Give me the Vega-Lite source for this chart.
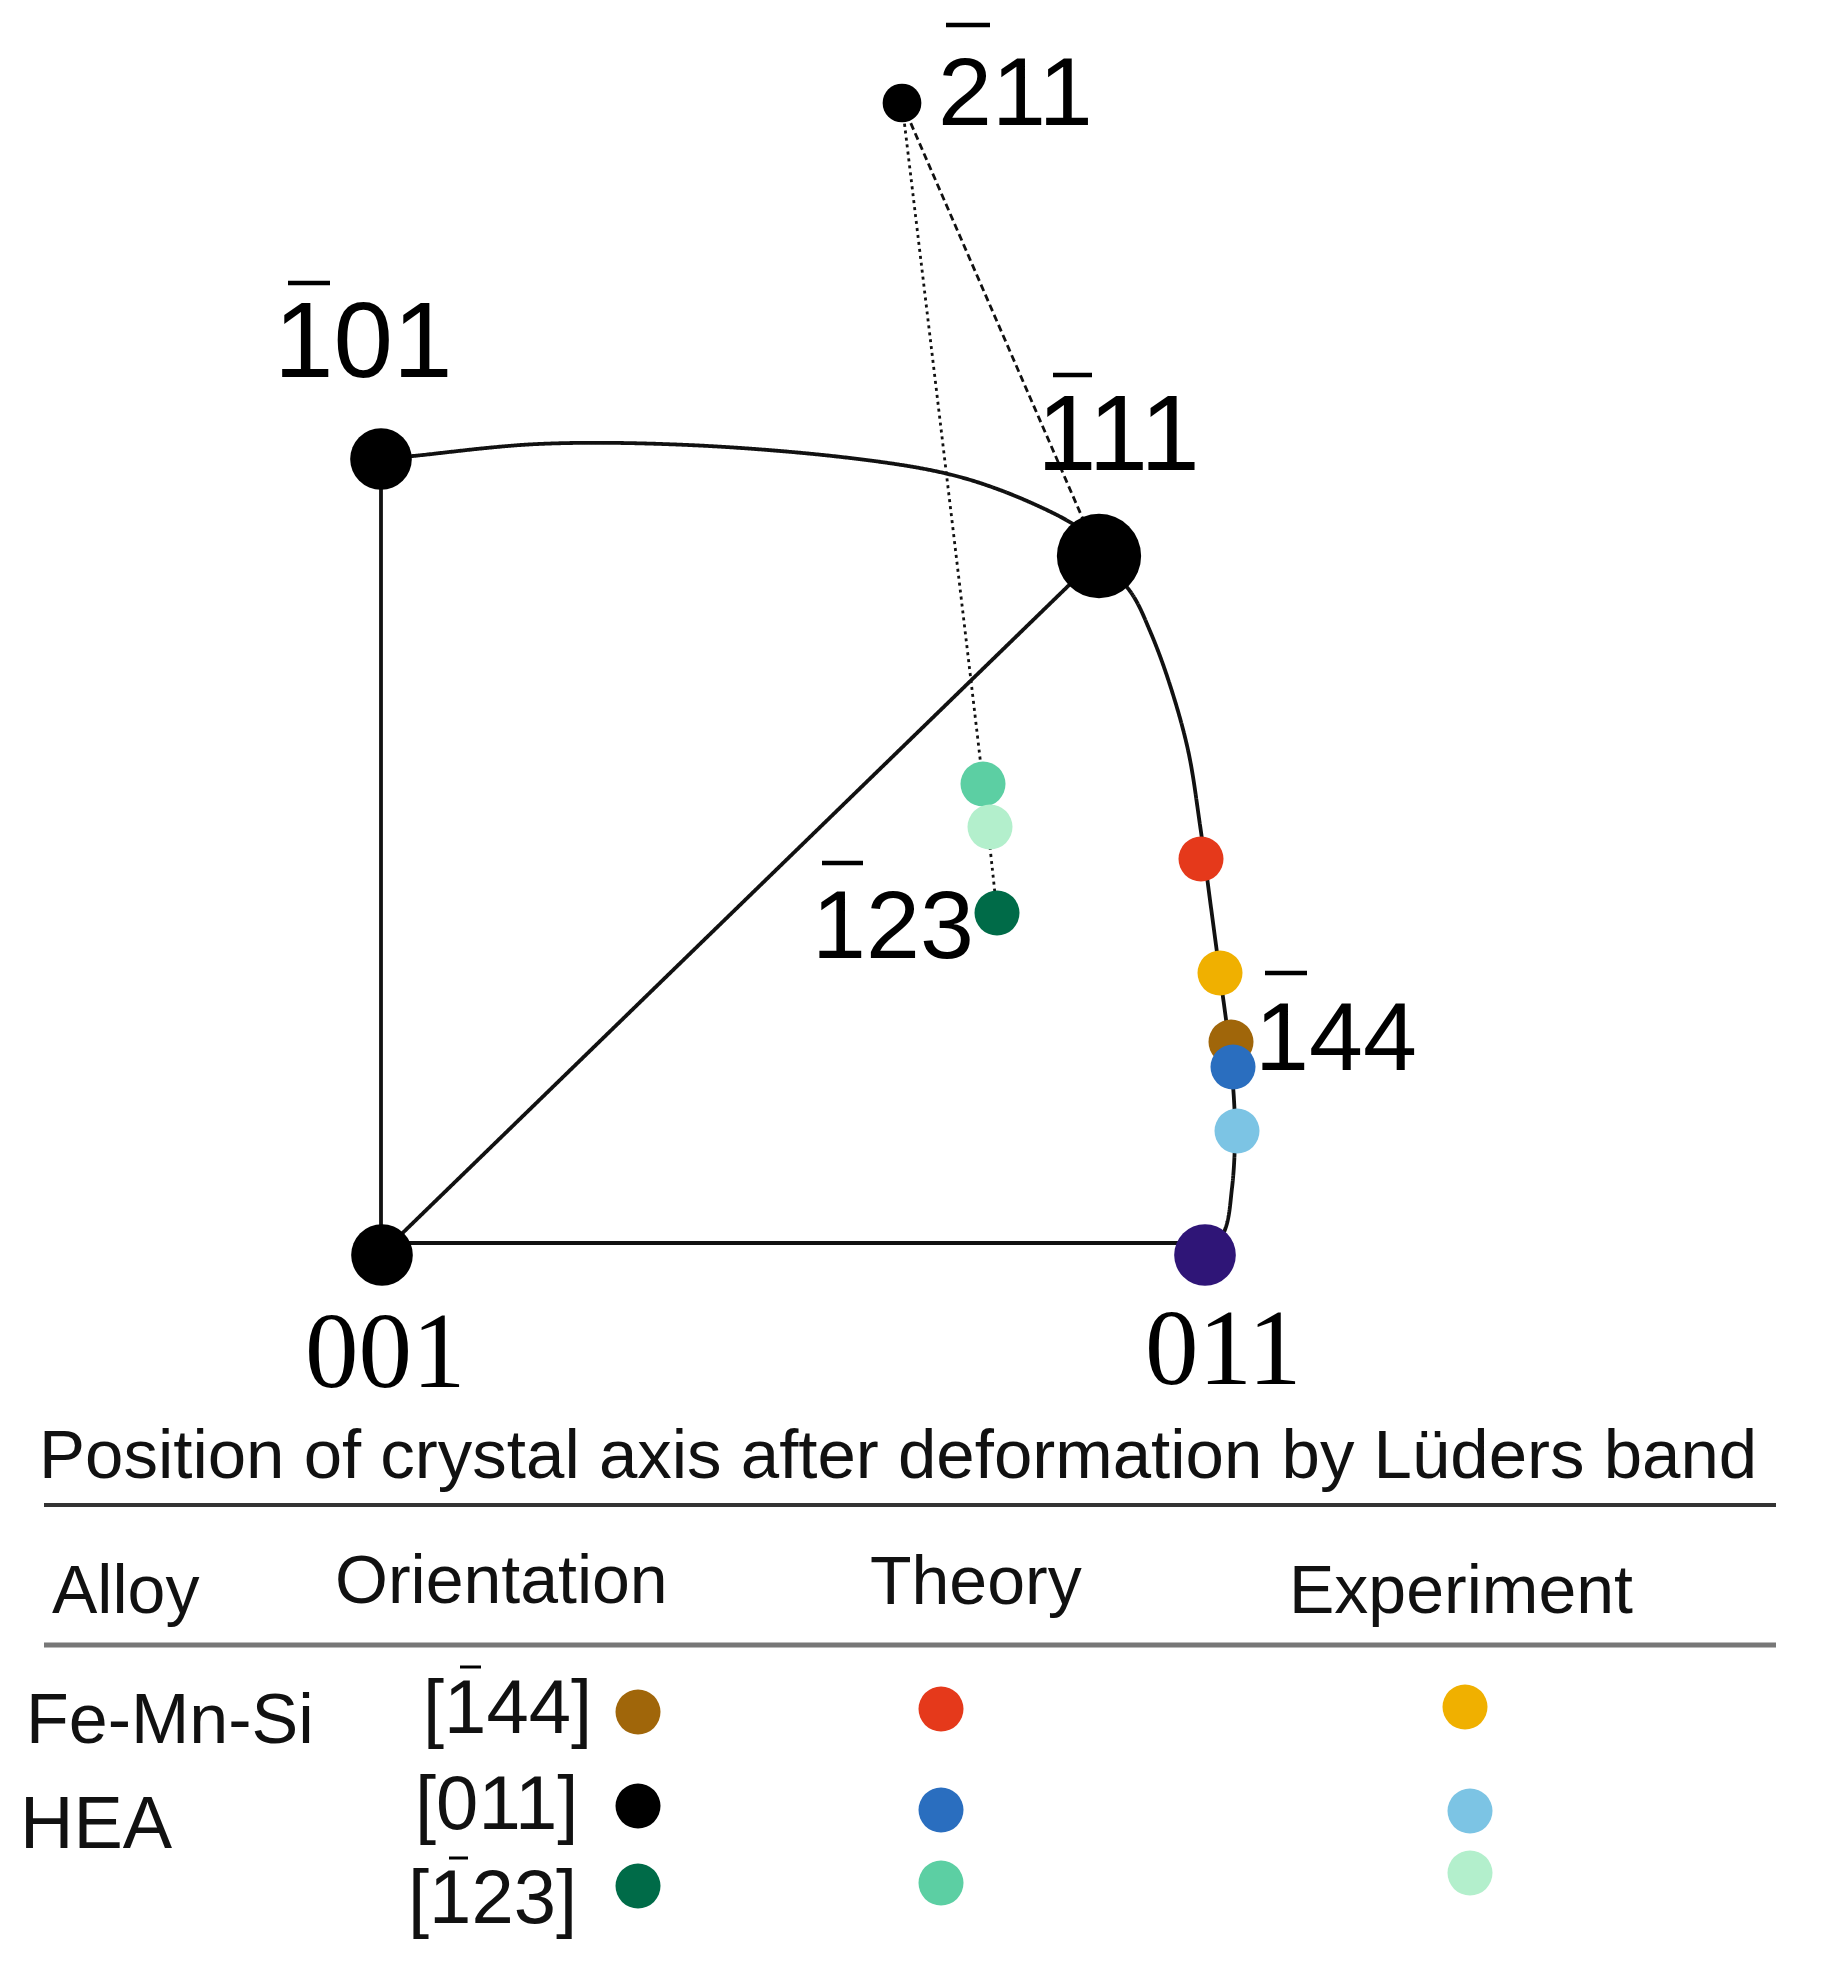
{
  "$schema": "https://vega.github.io/schema/vega-lite/v6.json",
  "width": 1822,
  "height": 1961,
  "padding": 0,
  "autosize": {"type": "fit", "contains": "padding"},
  "background": "white",
  "config": {"view": {"stroke": null}},
  "resolve": {"scale": {"size": "independent", "color": "independent", "strokeWidth": "independent", "strokeDash": "independent"}},
  "datasets": {
    "lines": [
      {"seg": "v", "style": "solid", "i": 0, "x": 381, "y": 459},
      {"seg": "v", "style": "solid", "i": 1, "x": 381, "y": 1254},
      {"seg": "h", "style": "solid", "i": 0, "x": 381, "y": 1243},
      {"seg": "h", "style": "solid", "i": 1, "x": 1204, "y": 1243},
      {"seg": "d", "style": "solid", "i": 0, "x": 381, "y": 1254},
      {"seg": "d", "style": "solid", "i": 1, "x": 1099, "y": 556},
      {"seg": "a1", "style": "solid", "i": 0, "x": 381, "y": 459},
      {"seg": "a1", "style": "solid", "i": 1, "x": 413, "y": 456},
      {"seg": "a1", "style": "solid", "i": 2, "x": 538, "y": 444},
      {"seg": "a1", "style": "solid", "i": 3, "x": 688, "y": 445},
      {"seg": "a1", "style": "solid", "i": 4, "x": 850, "y": 458},
      {"seg": "a1", "style": "solid", "i": 5, "x": 944, "y": 473},
      {"seg": "a1", "style": "solid", "i": 6, "x": 1000, "y": 490},
      {"seg": "a1", "style": "solid", "i": 7, "x": 1057, "y": 515},
      {"seg": "a1", "style": "solid", "i": 8, "x": 1088, "y": 533},
      {"seg": "a2", "style": "solid", "i": 0, "x": 1099, "y": 556},
      {"seg": "a2", "style": "solid", "i": 1, "x": 1132, "y": 594},
      {"seg": "a2", "style": "solid", "i": 2, "x": 1150, "y": 631},
      {"seg": "a2", "style": "solid", "i": 3, "x": 1169, "y": 682},
      {"seg": "a2", "style": "solid", "i": 4, "x": 1188, "y": 750},
      {"seg": "a2", "style": "solid", "i": 5, "x": 1200, "y": 825},
      {"seg": "a2", "style": "solid", "i": 6, "x": 1210, "y": 900},
      {"seg": "a2", "style": "solid", "i": 7, "x": 1220, "y": 975},
      {"seg": "a2", "style": "solid", "i": 8, "x": 1229, "y": 1044},
      {"seg": "a2", "style": "solid", "i": 9, "x": 1234, "y": 1100},
      {"seg": "a2", "style": "solid", "i": 10, "x": 1235, "y": 1138},
      {"seg": "a2", "style": "solid", "i": 11, "x": 1232, "y": 1188},
      {"seg": "a2", "style": "solid", "i": 12, "x": 1224, "y": 1232},
      {"seg": "a2", "style": "solid", "i": 13, "x": 1205, "y": 1255},
      {"seg": "dash", "style": "dashed", "i": 0, "x": 902, "y": 103},
      {"seg": "dash", "style": "dashed", "i": 1, "x": 1099, "y": 556},
      {"seg": "dot", "style": "dotted", "i": 0, "x": 902, "y": 103},
      {"seg": "dot", "style": "dotted", "i": 1, "x": 983, "y": 784},
      {"seg": "dot", "style": "dotted", "i": 2, "x": 997, "y": 913}
    ],
    "points": [
      {"name": "-101", "key": "pole", "kind": "pole", "x": 381, "y": 459},
      {"name": "001", "key": "pole", "kind": "pole", "x": 382, "y": 1255},
      {"name": "011", "key": "pole011", "kind": "pole", "x": 1205, "y": 1255},
      {"name": "-111", "key": "pole", "kind": "pole111", "x": 1099, "y": 556},
      {"name": "-211", "key": "pole", "kind": "pole211", "x": 902, "y": 103},
      {"name": "HEA [-123] theory", "key": "h123t", "kind": "dot", "x": 983, "y": 784},
      {"name": "HEA [-123] experiment", "key": "h123e", "kind": "dot", "x": 990, "y": 827},
      {"name": "HEA [-123] orientation", "key": "h123o", "kind": "dot", "x": 997, "y": 913},
      {"name": "Fe-Mn-Si theory", "key": "fmt", "kind": "dot", "x": 1201, "y": 859},
      {"name": "Fe-Mn-Si experiment", "key": "fme", "kind": "dot", "x": 1220, "y": 973},
      {"name": "Fe-Mn-Si orientation", "key": "fmo", "kind": "dot", "x": 1231, "y": 1042},
      {"name": "HEA [011] theory", "key": "h011t", "kind": "dot", "x": 1233, "y": 1067},
      {"name": "HEA [011] experiment", "key": "h011e", "kind": "dot", "x": 1237, "y": 1131},
      {"name": "legend", "key": "fmo", "kind": "tdot", "x": 638, "y": 1712},
      {"name": "legend", "key": "fmt", "kind": "tdot", "x": 941, "y": 1709},
      {"name": "legend", "key": "fme", "kind": "tdot", "x": 1465, "y": 1707},
      {"name": "legend", "key": "h011o", "kind": "tdot", "x": 638, "y": 1806},
      {"name": "legend", "key": "h011t", "kind": "tdot", "x": 941, "y": 1810},
      {"name": "legend", "key": "h011e", "kind": "tdot", "x": 1470, "y": 1811},
      {"name": "legend", "key": "h123o", "kind": "tdot", "x": 638, "y": 1886},
      {"name": "legend", "key": "h123t", "kind": "tdot", "x": 941, "y": 1883},
      {"name": "legend", "key": "h123e", "kind": "tdot", "x": 1470, "y": 1873}
    ],
    "rules": [
      {"kind": "diag", "x": 946, "x2": 990, "y": 25},
      {"kind": "diag", "x": 288, "x2": 330, "y": 283},
      {"kind": "diag", "x": 1053, "x2": 1092, "y": 375},
      {"kind": "diag", "x": 822, "x2": 863, "y": 863},
      {"kind": "diag", "x": 1265, "x2": 1307, "y": 973},
      {"kind": "table", "x": 460, "x2": 481, "y": 1667},
      {"kind": "table", "x": 449, "x2": 468, "y": 1858},
      {"kind": "rule1", "x": 44, "x2": 1776, "y": 1505},
      {"kind": "rule2", "x": 44, "x2": 1776, "y": 1645}
    ],
    "millers": [
      {"text": "211", "kind": "n", "x": 938, "y": 125},
      {"text": "101", "kind": "b", "x": 274, "y": 377},
      {"text": "111", "kind": "b", "x": 1037, "y": 470},
      {"text": "123", "kind": "n", "x": 812, "y": 958},
      {"text": "144", "kind": "n", "x": 1255, "y": 1070}
    ],
    "serif": [
      {"text": "001", "x": 305, "y": 1387},
      {"text": "011", "x": 1145, "y": 1384}
    ],
    "table": [
      {"text": "Position of crystal axis after deformation by Lüders band", "kind": "t", "x": 39, "y": 1478},
      {"text": "Alloy", "kind": "h", "x": 52, "y": 1613},
      {"text": "Orientation", "kind": "h", "x": 335, "y": 1603},
      {"text": "Theory", "kind": "h", "x": 870, "y": 1604},
      {"text": "Experiment", "kind": "h", "x": 1289, "y": 1613},
      {"text": "Fe-Mn-Si", "kind": "f", "x": 26, "y": 1743},
      {"text": "HEA", "kind": "a", "x": 20, "y": 1848},
      {"text": "[144]", "kind": "o", "x": 423, "y": 1733},
      {"text": "[011]", "kind": "o", "x": 415, "y": 1829},
      {"text": "[123]", "kind": "o", "x": 408, "y": 1923}
    ]
  },
  "layer": [
    {
      "data": {"name": "lines"},
      "mark": {"type": "line", "interpolate": "catmull-rom", "color": "#111111"},
      "encoding": {
        "x": {"field": "x", "type": "quantitative", "scale": {"domain": [0, 1822], "nice": false, "zero": false}, "axis": null},
        "y": {"field": "y", "type": "quantitative", "scale": {"domain": [0, 1961], "nice": false, "zero": false, "reverse": true}, "axis": null},
        "detail": {"field": "seg", "type": "nominal"},
        "order": {"field": "i", "type": "quantitative"},
        "strokeDash": {"field": "style", "type": "nominal", "scale": {"type": "ordinal", "domain": ["solid", "dashed", "dotted"], "range": [[1, 0], [7, 4], [3, 4]]}, "legend": null},
        "strokeWidth": {"field": "style", "type": "ordinal", "scale": {"type": "ordinal", "domain": ["solid", "dashed", "dotted"], "range": [3.8, 2.8, 2.8]}, "legend": null}
      }
    },
    {
      "data": {"name": "points"},
      "mark": {"type": "point", "shape": "circle", "filled": true, "opacity": 1, "strokeWidth": 0},
      "encoding": {
        "x": {"field": "x", "type": "quantitative", "axis": null},
        "y": {"field": "y", "type": "quantitative", "axis": null},
        "color": {"field": "key", "type": "nominal", "legend": null, "scale": {
          "domain": ["pole", "pole011", "fmo", "fmt", "fme", "h011o", "h011t", "h011e", "h123o", "h123t", "h123e"],
          "range": ["#000000", "#2f1577", "#a0660a", "#e5391b", "#f0b000", "#000000", "#2a6ebf", "#7cc4e4", "#006b48", "#5ccfa3", "#b3efcc"]}},
        "size": {"field": "kind", "type": "ordinal", "legend": null, "scale": {"type": "ordinal",
          "domain": ["pole", "pole111", "pole211", "dot", "tdot"],
          "range": [3800, 7100, 1500, 2025, 2025]}}
      }
    },
    {
      "data": {"name": "rules"},
      "mark": {"type": "rule"},
      "encoding": {
        "x": {"field": "x", "type": "quantitative", "axis": null},
        "x2": {"field": "x2"},
        "y": {"field": "y", "type": "quantitative", "axis": null},
        "color": {"field": "kind", "type": "nominal", "legend": null, "scale": {"domain": ["diag", "table", "rule1", "rule2"], "range": ["#000000", "#000000", "#333333", "#777777"]}},
        "strokeWidth": {"field": "kind", "type": "ordinal", "legend": null, "scale": {"type": "ordinal", "domain": ["diag", "table", "rule1", "rule2"], "range": [4.5, 3, 4, 5]}}
      }
    },
    {
      "data": {"name": "millers"},
      "mark": {"type": "text", "align": "left", "baseline": "alphabetic", "font": "Liberation Sans Narrow, Arial Narrow, Liberation Sans", "color": "#000000"},
      "encoding": {
        "x": {"field": "x", "type": "quantitative", "axis": null},
        "y": {"field": "y", "type": "quantitative", "axis": null},
        "text": {"field": "text"},
        "size": {"field": "kind", "type": "ordinal", "legend": null, "scale": {"type": "ordinal", "domain": ["n", "b"], "range": [97, 107]}}
      }
    },
    {
      "data": {"name": "serif"},
      "mark": {"type": "text", "align": "left", "baseline": "alphabetic", "font": "Liberation Serif", "fontSize": 107, "color": "#000000"},
      "encoding": {
        "x": {"field": "x", "type": "quantitative", "axis": null},
        "y": {"field": "y", "type": "quantitative", "axis": null},
        "text": {"field": "text"}
      }
    },
    {
      "data": {"name": "table"},
      "mark": {"type": "text", "align": "left", "baseline": "alphabetic", "font": "Liberation Sans", "color": "#111111"},
      "encoding": {
        "x": {"field": "x", "type": "quantitative", "axis": null},
        "y": {"field": "y", "type": "quantitative", "axis": null},
        "text": {"field": "text"},
        "size": {"field": "kind", "type": "ordinal", "legend": null, "scale": {"type": "ordinal", "domain": ["t", "h", "f", "a", "o"], "range": [69, 68, 70, 74, 76]}}
      }
    }
  ]
}
